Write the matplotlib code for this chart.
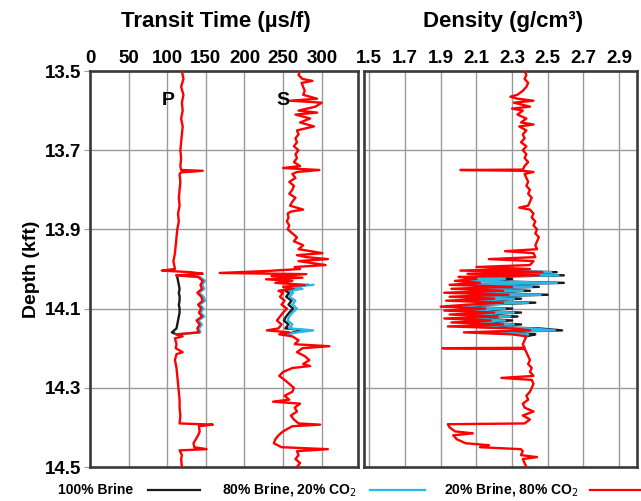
import matplotlib
matplotlib.use("Agg")
import matplotlib.pyplot as plt
from matplotlib.lines import Line2D

plt.rcParams['font.family'] = ['Liberation Sans', 'DejaVu Sans']

# ---------------- data ----------------
depth_ticks = [13.5, 13.7, 13.9, 14.1, 14.3, 14.5]
tt_ticks = [0, 50, 100, 150, 200, 250, 300]
den_ticks = [1.5, 1.7, 1.9, 2.1, 2.3, 2.5, 2.7, 2.9]

legend_labels = ["100% Brine", "80% Brine, 20% CO$_2$", "20% Brine, 80% CO$_2$"]
series_colors = ["#1a1a1a", "#29b6e8", "#ff0000"]

# P-wave transit time, 20% brine / 80% CO2 (full log)
p_depth = [13.500, 13.520, 13.540, 13.560, 13.580, 13.600, 13.620, 13.640, 13.660, 13.680,
           13.700, 13.720, 13.740, 13.750, 13.752, 13.756, 13.760, 13.780, 13.800, 13.820,
           13.840, 13.860, 13.880, 13.900, 13.920, 13.940, 13.960, 13.980, 14.000, 14.004,
           14.008, 14.012, 14.016, 14.020, 14.030, 14.040, 14.050, 14.060, 14.070, 14.080,
           14.090, 14.100, 14.110, 14.120, 14.130, 14.140, 14.150, 14.160, 14.165, 14.170,
           14.175, 14.190, 14.200, 14.210, 14.215, 14.230, 14.250, 14.270, 14.290, 14.310,
           14.330, 14.350, 14.370, 14.390, 14.393, 14.397, 14.410, 14.420, 14.430, 14.440,
           14.450, 14.455, 14.458, 14.470, 14.480, 14.500]
p_co2_80 = [119, 121, 118, 121, 119, 120, 118, 120, 119, 118,
            117, 118, 117, 118, 146, 118, 116, 117, 116, 115,
            116, 114, 115, 113, 112, 111, 110, 108, 110, 93,
            130, 146, 112, 140, 146, 143, 145, 139, 144, 146,
            140, 144, 141, 145, 138, 142, 139, 141, 112, 120,
            110, 112, 111, 120, 112, 110, 112, 113, 114, 115,
            116, 116, 117, 116, 159, 141, 142, 140, 137, 134,
            135, 151, 116, 119, 118, 119]
# P-wave zone where the fluid cases differ
pz_depth = [14.016, 14.020, 14.030, 14.040, 14.050, 14.060, 14.070, 14.080, 14.090, 14.100,
            14.110, 14.120, 14.130, 14.140, 14.150, 14.160, 14.165]
pz_brine = [112, 113, 114, 115, 116, 115, 116, 116, 115, 116,
            116, 115, 114, 113, 112, 106, 112]
pz_co2_20 = [113, 142, 149, 145, 148, 141, 147, 149, 142, 147,
             143, 148, 140, 145, 141, 143, 112]

# S-wave transit time, 20% brine / 80% CO2 (full log)
s_depth = [13.500, 13.510, 13.520, 13.525, 13.530, 13.540, 13.550, 13.560, 13.570, 13.575,
           13.580, 13.590, 13.600, 13.605, 13.610, 13.620, 13.630, 13.640, 13.650, 13.660,
           13.670, 13.680, 13.690, 13.700, 13.710, 13.720, 13.730, 13.740, 13.745, 13.750,
           13.755, 13.760, 13.770, 13.780, 13.790, 13.800, 13.810, 13.820, 13.830, 13.840,
           13.850, 13.855, 13.860, 13.870, 13.880, 13.890, 13.900, 13.910, 13.920, 13.930,
           13.940, 13.950, 13.960, 13.965, 13.970, 13.975, 13.980, 13.990, 13.995, 14.000,
           14.005, 14.010, 14.013, 14.018, 14.022, 14.026, 14.030, 14.035, 14.040, 14.045,
           14.050, 14.055, 14.060, 14.070, 14.080, 14.090, 14.100, 14.110, 14.120, 14.130,
           14.140, 14.150, 14.155, 14.160, 14.165, 14.170, 14.180, 14.190, 14.195, 14.200,
           14.210, 14.220, 14.230, 14.240, 14.245, 14.250, 14.260, 14.270, 14.280, 14.290,
           14.300, 14.310, 14.320, 14.330, 14.335, 14.340, 14.350, 14.360, 14.370, 14.380,
           14.390, 14.393, 14.397, 14.410, 14.420, 14.430, 14.440, 14.450, 14.455, 14.460,
           14.470, 14.480, 14.490, 14.500]
s_co2_80 = [272, 270, 275, 288, 274, 276, 278, 276, 294, 259,
            300, 292, 270, 294, 266, 285, 272, 290, 268, 270,
            266, 268, 264, 270, 266, 268, 264, 272, 250, 297,
            268, 262, 266, 258, 264, 262, 258, 266, 262, 259,
            276, 260, 256, 257, 255, 258, 256, 262, 268, 264,
            276, 270, 301, 268, 280, 308, 270, 305, 265, 272,
            230, 168, 280, 235, 275, 228, 262, 240, 278, 250,
            262, 244, 250, 246, 252, 248, 255, 250, 246, 242,
            248, 244, 229, 258, 245, 262, 270, 265, 310, 275,
            268, 278, 284, 276, 285, 262, 250, 245, 252, 258,
            264, 262, 252, 258, 237, 272, 265, 268, 260, 264,
            270, 298, 262, 250, 244, 240, 238, 248, 308, 268,
            270, 266, 272, 268]
sz_depth = [14.040, 14.045, 14.050, 14.055, 14.060, 14.070, 14.080, 14.090, 14.100, 14.110,
            14.120, 14.130, 14.140, 14.150, 14.155, 14.160, 14.165]
sz_brine = [282, 258, 270, 253, 258, 254, 261, 257, 263, 258,
            254, 251, 257, 253, 280, 264, 252]
sz_co2_20 = [289, 262, 275, 258, 263, 258, 266, 262, 268, 262,
             258, 256, 262, 258, 289, 268, 255]

# Density, 20% brine / 80% CO2 (full log)
d_depth = [13.500, 13.510, 13.520, 13.530, 13.540, 13.550, 13.560, 13.565, 13.570, 13.575,
           13.580, 13.590, 13.595, 13.600, 13.610, 13.620, 13.630, 13.635, 13.640, 13.650,
           13.660, 13.670, 13.680, 13.690, 13.700, 13.710, 13.720, 13.730, 13.740, 13.749,
           13.750, 13.752, 13.755, 13.760, 13.770, 13.780, 13.790, 13.800, 13.810, 13.820,
           13.830, 13.840, 13.845, 13.850, 13.860, 13.870, 13.880, 13.890, 13.900, 13.910,
           13.920, 13.930, 13.940, 13.950, 13.955, 13.960, 13.970, 13.975, 13.980, 13.990,
           13.995, 14.000, 14.004, 14.008, 14.012, 14.016, 14.020, 14.025, 14.030, 14.035,
           14.040, 14.045, 14.050, 14.055, 14.060, 14.065, 14.070, 14.075, 14.080, 14.085,
           14.090, 14.095, 14.100, 14.105, 14.110, 14.115, 14.120, 14.125, 14.130, 14.135,
           14.140, 14.145, 14.150, 14.155, 14.160, 14.165, 14.170, 14.180, 14.190, 14.199,
           14.200, 14.202, 14.210, 14.220, 14.230, 14.240, 14.250, 14.260, 14.270, 14.275,
           14.280, 14.290, 14.300, 14.310, 14.320, 14.330, 14.340, 14.350, 14.360, 14.370,
           14.380, 14.390, 14.392, 14.400, 14.410, 14.415, 14.420, 14.430, 14.440, 14.445,
           14.450, 14.455, 14.460, 14.470, 14.475, 14.480, 14.490, 14.500]
d_co2_80 = [2.37, 2.38, 2.37, 2.39, 2.38, 2.36, 2.33, 2.29, 2.33, 2.42,
            2.31, 2.40, 2.30, 2.36, 2.33, 2.38, 2.35, 2.42, 2.34, 2.38,
            2.36, 2.37, 2.35, 2.38, 2.36, 2.38, 2.37, 2.39, 2.37, 2.36,
            2.01, 2.36, 2.42, 2.37, 2.38, 2.39, 2.38, 2.40, 2.39, 2.41,
            2.40, 2.39, 2.34, 2.40, 2.42, 2.41, 2.43, 2.42, 2.44, 2.43,
            2.45, 2.44, 2.43, 2.44, 2.26, 2.42, 2.43, 2.17, 2.42, 2.40,
            2.10, 2.40, 2.01, 2.47, 2.05, 2.45, 2.00, 2.10, 1.98, 2.12,
            1.95, 2.30, 1.96, 2.25, 1.92, 2.28, 1.95, 2.20, 1.93, 2.25,
            2.05, 1.90, 2.15, 1.92, 2.20, 1.95, 2.22, 1.92, 2.18, 1.96,
            2.25, 1.94, 2.30, 2.40, 2.03, 2.30, 2.38, 2.37, 2.36, 2.37,
            1.91, 2.37, 2.38, 2.39, 2.40, 2.39, 2.41, 2.40, 2.42, 2.24,
            2.41, 2.42, 2.41, 2.40, 2.38, 2.39, 2.36, 2.37, 2.42, 2.36,
            2.40, 2.37, 1.94, 1.95, 1.98, 2.08, 1.97, 1.99, 2.04, 2.17,
            2.12, 2.35, 2.36, 2.35, 2.44, 2.36, 2.37, 2.38]
dz_depth = [14.004, 14.008, 14.012, 14.016, 14.020, 14.025, 14.030, 14.035, 14.040, 14.045,
            14.050, 14.055, 14.060, 14.065, 14.070, 14.075, 14.080, 14.085, 14.090, 14.095,
            14.100, 14.105, 14.110, 14.115, 14.120, 14.125, 14.130, 14.135, 14.140, 14.145,
            14.150, 14.155, 14.160, 14.165, 14.170]
dz_brine = [2.10, 2.55, 2.15, 2.59, 2.10, 2.30, 2.08, 2.59, 2.05, 2.45,
            2.06, 2.40, 2.02, 2.50, 2.05, 2.35, 2.03, 2.43, 2.15, 2.00,
            2.30, 2.02, 2.35, 2.05, 2.33, 2.02, 2.30, 2.06, 2.35, 2.04,
            2.45, 2.58, 2.13, 2.43, 2.38]
dz_co2_20 = [2.07, 2.52, 2.12, 2.56, 2.06, 2.26, 2.04, 2.55, 2.01, 2.41,
             2.02, 2.36, 1.98, 2.46, 2.01, 2.31, 1.99, 2.39, 2.11, 1.96,
             2.26, 1.98, 2.31, 2.01, 2.29, 1.98, 2.26, 2.02, 2.31, 2.00,
             2.41, 2.54, 2.09, 2.39, 2.38]

# ---------------- figure ----------------
fig = plt.figure(figsize=(6.41, 5.01), dpi=100)
fig.patch.set_facecolor("white")

W, H = 641.0, 501.0
ax1 = fig.add_axes([90 / W, (H - 467) / H, (358 - 90) / W, (467 - 71) / H])
ax2 = fig.add_axes([364 / W, (H - 467) / H, (637 - 364) / W, (467 - 71) / H])

spine_c = "#3a3a3a"
grid_c = "#9a9a9a"
lw = 1.7

for ax in (ax1, ax2):
    ax.set_ylim(14.5, 13.5)
    ax.set_yticks(depth_ticks)
    ax.xaxis.tick_top()
    ax.grid(True, color=grid_c, linewidth=1.0)
    ax.set_axisbelow(True)
    for s in ax.spines.values():
        s.set_color(spine_c)
        s.set_linewidth(1.9)
    ax.tick_params(axis='x', length=0, pad=3, labelsize=13.5)

# transit time panel
ax1.set_xlim(0, 347)
ax1.set_xticks(tt_ticks)
ax1.set_xticklabels([str(t) for t in tt_ticks], fontweight='bold', fontsize=13.5)
ax1.set_yticklabels([f"{d:.1f}" for d in depth_ticks], fontweight='bold', fontsize=13.5)
ax1.tick_params(axis='y', length=4, color=grid_c, pad=2)
ax1.plot(pz_brine, pz_depth, color=series_colors[0], lw=lw, zorder=3)
ax1.plot(pz_co2_20, pz_depth, color=series_colors[1], lw=lw, zorder=3)
ax1.plot(p_co2_80, p_depth, color=series_colors[2], lw=lw, zorder=4)
ax1.plot(sz_brine, sz_depth, color=series_colors[0], lw=lw, zorder=3)
ax1.plot(sz_co2_20, sz_depth, color=series_colors[1], lw=lw, zorder=3)
ax1.plot(s_co2_80, s_depth, color=series_colors[2], lw=lw, zorder=4)
ax1.text(101, 13.575, "P", fontsize=14, fontweight='bold', ha='center', va='center', zorder=5)
ax1.text(250, 13.575, "S", fontsize=14, fontweight='bold', ha='center', va='center', zorder=5)
ax1.set_ylabel("Depth (kft)", fontsize=14, fontweight='bold', labelpad=4)

# density panel
ax2.set_xlim(1.47, 3.0)
ax2.set_xticks(den_ticks)
ax2.set_xticklabels([f"{t:.1f}" for t in den_ticks], fontweight='bold', fontsize=13.5)
ax2.tick_params(axis='y', length=0, labelleft=False)
ax2.plot(dz_brine, dz_depth, color=series_colors[0], lw=lw, zorder=3)
ax2.plot(dz_co2_20, dz_depth, color=series_colors[1], lw=lw, zorder=3)
ax2.plot(d_co2_80, d_depth, color=series_colors[2], lw=lw, zorder=4)

# titles
fig.text(216 / W, 1 - 21 / H, "Transit Time (µs/f)", fontsize=16, fontweight='bold',
         ha='center', va='center')
fig.text(503 / W, 1 - 21 / H, "Density (g/cm³)", fontsize=16, fontweight='bold',
         ha='center', va='center')

# legend row along bottom
leg_y = 1 - 490 / H
text_x = [[58, 145], [222, 362], [444, 582]]
line_x = [[148, 200], [370, 425], [590, 641]]
for lab, col, tx, lx in zip(legend_labels, series_colors, text_x, line_x):
    fig.text(tx[0] / W, leg_y, lab, fontsize=10, fontweight='bold', ha='left', va='center')
    fig.add_artist(Line2D([lx[0] / W, lx[1] / W], [leg_y, leg_y], color=col, lw=1.6,
                          transform=fig.transFigure))

fig.savefig("out.png", dpi=100, facecolor="white")
